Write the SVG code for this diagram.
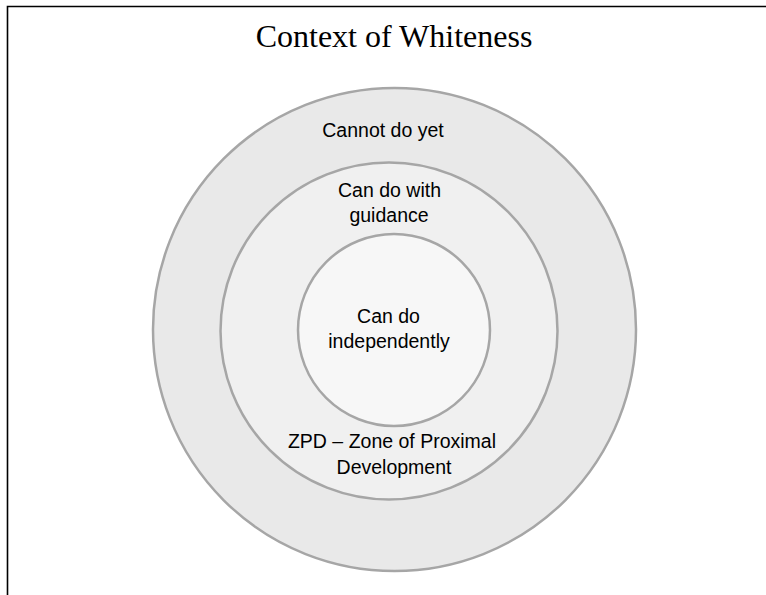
<svg xmlns="http://www.w3.org/2000/svg" width="766" height="595" viewBox="0 0 766 595">
<style>
.ring{stroke:#a6a6a6;stroke-width:2.5}
.lbl{font-family:"Liberation Sans",Arial,sans-serif;font-size:19.5px;fill:#000;text-anchor:middle}
.title{font-family:"Liberation Serif","Times New Roman",serif;font-size:32px;fill:#000;text-anchor:middle}
</style>
<rect width="766" height="595" fill="#fff"/>
<g id="frame">
<path d="M7.5,595 V6.5 H766" fill="none" stroke="#000" stroke-width="1.6"/>
</g>
<text class="title" x="394" y="47">Context of Whiteness</text>
<g id="cannot-do-yet">
<circle class="ring" cx="394.5" cy="329.5" r="241.5" fill="#e9e9e9"/>
<text class="lbl" x="383" y="136.5">Cannot do yet</text>
</g>
<g id="zpd">
<circle class="ring" cx="389" cy="331" r="168.5" fill="#f0f0f0"/>
<text class="lbl" x="389.5" y="196.5">Can do with</text>
<text class="lbl" x="389" y="221.5">guidance</text>
<text class="lbl" x="392" y="448">ZPD – Zone of Proximal</text>
<text class="lbl" x="394" y="473.5">Development</text>
</g>
<g id="can-do-independently">
<circle class="ring" cx="394" cy="330" r="96" fill="#f7f7f7"/>
<text class="lbl" x="388.5" y="323">Can do</text>
<text class="lbl" x="389" y="348">independently</text>
</g>
<g id="connectors"></g>
</svg>
